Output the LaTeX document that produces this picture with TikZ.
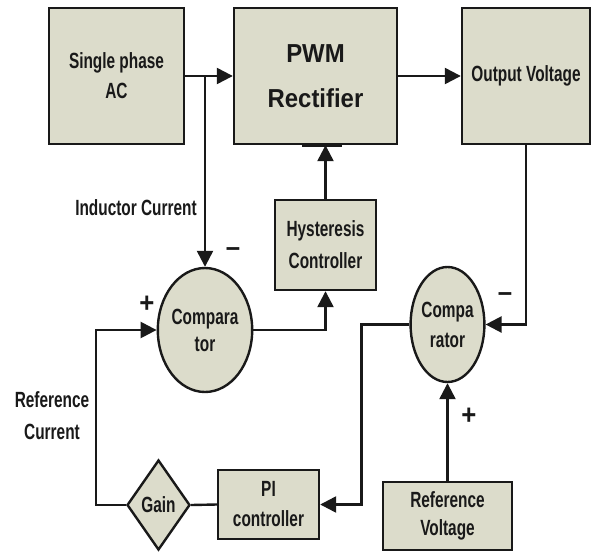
\documentclass[tikz,border=0pt]{standalone}
\usepackage{fontspec}
\setmainfont{Liberation Sans}[FakeStretch=0.7]
\newfontfamily\bigfont{Liberation Sans}[FakeStretch=0.92]
\usetikzlibrary{shapes.geometric,arrows.meta}
\definecolor{boxfill}{RGB}{220,220,203}
\definecolor{ink}{RGB}{25,25,25}
\newcommand\lblfont{\bfseries\fontsize{22}{30}\selectfont}
\begin{document}
\begin{tikzpicture}[x=1pt,y=-1pt,
  blk/.style={draw=ink, fill=boxfill, line width=2.4pt, inner sep=0pt, align=center, font=\lblfont, text=ink},
  ell/.style={blk, shape=ellipse},
  dia/.style={blk, shape=diamond, aspect=0.7},
  conn/.style={draw=ink, line width=2.4pt},
  arr/.style={conn, -{Triangle[length=16pt,width=16pt]}},
  lbl/.style={font=\lblfont, text=ink, align=center, inner sep=0pt},
  sgn/.style={font=\bigfont\bfseries\fontsize{28}{28}\selectfont, text=ink, inner sep=0pt}]
\useasboundingbox (0,0) rectangle (591,551);
% blocks
\node[blk, minimum width=135, minimum height=136] (ac) at (116.5,76) {Single phase\\AC};
\node[blk, minimum width=163, minimum height=136, font=\bigfont\bfseries\fontsize{26}{45}\selectfont] (pwm) at (315.5,76) {PWM\\Rectifier};
\node[blk, minimum width=128, minimum height=136] (out) at (526,76) {Output Voltage};
\node[blk, minimum width=101, minimum height=90, font=\bfseries\fontsize{22}{32}\selectfont] (hyst) at (325.5,245) {Hysteresis\\Controller};
\node[ell, minimum width=86, minimum height=124, font=\bfseries\fontsize{22}{27}\selectfont] (cmp1) at (205,330) {Compara\\tor};
\node[ell, minimum width=71, minimum height=115] (cmp2) at (447.5,324.5) {Compa\\rator};
\node[dia, minimum width=63, minimum height=90] (gain) at (158.5,505) {Gain};
\node[blk, minimum width=101, minimum height=69] (pi) at (268.5,504.5) {PI\\controller};
\node[blk, minimum width=129, minimum height=68, font=\bfseries\fontsize{22}{28}\selectfont] (refv) at (447.5,516) {Reference\\Voltage};
% labels
\node[lbl] (lind) at (136,208) {Inductor Current};
\node[lbl, font=\bfseries\fontsize{22}{32}\selectfont] (lrefc) at (52,416) {Reference\\Current};
\node[sgn] (m1) at (233,252) {–};
\node[sgn] (p1) at (147,304) {+};
\node[sgn] (m2) at (505,297) {–};
\node[sgn] (p2) at (469,416) {+};
% connectors
\coordinate (j1) at (205,76);
\draw[arr] (ac.east) -- (pwm.west);
\draw[arr] (pwm.east) -- (out.west);
\draw[arr] (j1) -- (cmp1.north);
\draw[arr] (cmp1.east) -| (hyst.south);
\draw[arr] (hyst.north) -- (hyst.north |- pwm.south);
\draw[draw=ink, line width=4.5pt] ([xshift=-13.5pt]pwm.south) -- ([xshift=26.5pt]pwm.south);
\draw[arr] (out.south) |- (cmp2.east);
\draw[arr] (cmp2.west) -- ++(-48,0) |- (pi.east);
\draw[arr] (refv.north) -- (cmp2.south);
\draw[conn] (pi.west) -- (gain.east);
\draw[arr] (gain.west) -- ++(-30,0) |- (cmp1.west);
\end{tikzpicture}
\end{document}
